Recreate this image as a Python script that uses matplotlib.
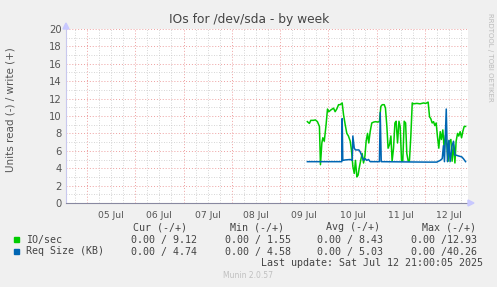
import matplotlib
matplotlib.use("Agg")
import matplotlib.pyplot as plt
from matplotlib.ticker import MultipleLocator, FixedLocator, NullFormatter

# time in hours since 09 Jul 00:00
io_hours = [13.5, 14.5, 15.2, 16.5, 17.5, 18.5, 19.5, 20.0, 20.7, 21.2, 21.9, 22.8,
            23.5, 24.2, 25.2, 26.5, 27.3, 28.1, 29.0, 29.8, 30.8, 31.5, 32.3, 33.1,
            33.9, 34.8, 35.4, 36.1, 36.8, 37.4, 38.1, 38.7, 39.4, 40.1, 40.7, 41.4,
            42.1, 42.7, 43.4, 44.0, 44.7, 45.5, 46.4, 47.4, 48.4, 49.3, 50.0, 50.7,
            51.7, 52.3, 53.0, 53.6, 54.3, 55.0, 55.6, 56.3, 57.0, 57.6, 58.3, 59.0,
            59.6, 60.3, 60.9, 61.6, 62.3, 62.9, 63.6, 64.2, 64.9, 65.6, 66.2, 67.9,
            69.5, 71.2, 72.2, 72.8, 73.5, 74.2, 74.8, 75.5, 76.2, 76.8, 77.5, 78.1,
            78.8, 79.5, 80.1, 80.8, 81.5, 82.1, 82.8, 83.4, 84.1, 84.8, 85.4, 86.1,
            86.8, 87.4, 88.1, 88.7, 89.4, 90.1, 90.7, 91.4, 92.1]
io_sec = [9.35, 9.15, 9.5, 9.5, 9.55, 9.35, 8.8, 4.4, 6.9, 7.5, 7.1, 9.0,
          10.8, 10.5, 10.7, 10.9, 10.5, 10.8, 11.3, 11.3, 11.5, 10.1, 9.0, 8.0,
          7.7, 7.1, 6.1, 4.2, 3.4, 4.9, 3.0, 3.2, 4.2, 5.0, 5.7, 4.6,
          5.4, 7.1, 8.0, 6.9, 8.2, 9.2, 9.3, 9.35, 9.3, 9.35, 11.1, 11.3,
          11.3, 10.9, 8.8, 6.3, 6.7, 7.7, 4.8, 6.3, 9.2, 9.4, 6.9, 9.4,
          8.8, 4.8, 4.8, 9.4, 9.2, 5.7, 4.8, 4.8, 7.7, 11.5, 11.4, 11.45,
          11.4, 11.5, 11.45, 11.5, 11.6, 9.9, 9.7, 9.2, 9.35, 8.9, 9.2, 7.7,
          6.3, 8.2, 7.3, 8.4, 6.1, 7.8, 6.7, 4.8, 7.1, 7.3, 4.8, 6.7,
          4.6, 7.1, 8.0, 7.7, 8.2, 7.5, 8.2, 8.8, 8.8]

req_hours = [13.5, 30.6, 30.8, 31.1, 32.3, 34.8, 35.8, 36.1, 36.8, 37.4, 39.1, 39.7,
             40.6, 41.4, 42.2, 43.0, 43.9, 44.7, 49.3, 49.7, 50.2, 72.8, 77.8, 79.5,
             80.5, 81.1, 81.6, 82.5, 83.1, 83.8, 84.4, 85.4, 86.1, 86.8, 87.4, 88.7,
             90.2, 91.0, 92.1]
req_kb = [4.75, 4.75, 9.7, 4.9, 4.95, 5.0, 4.9, 7.7, 6.3, 6.1, 6.1, 5.9,
          5.4, 4.9, 5.1, 4.9, 5.0, 4.75, 4.75, 10.4, 4.75, 4.7, 4.7, 4.9,
          5.1, 6.6, 4.75, 10.8, 4.75, 7.2, 4.75, 6.6, 7.1, 5.5, 5.5, 5.4,
          5.3, 5.1, 4.75]

day_labels = ['05 Jul', '06 Jul', '07 Jul', '08 Jul', '09 Jul', '10 Jul', '11 Jul', '12 Jul']
legend_names = ['IO/sec', 'Req Size (KB)']
cur = ['0.00 / 9.12', '0.00 / 4.74']
mins = ['0.00 / 1.55', '0.00 / 4.58']
avgs = ['0.00 / 8.43', '0.00 / 5.03']
maxs = ['0.00 /12.93', '0.00 /40.26']
colors = ['#00cc00', '#0066b3']

W, H = 497, 287
fig = plt.figure(figsize=(W / 100, H / 100), dpi=100, facecolor='#f0f0f0')
ax = fig.add_axes([66 / W, 84 / H, 402 / W, 174 / H])
ax.set_facecolor('white')

ax.plot(io_hours, io_sec, color=colors[0], lw=1.1, zorder=3)
ax.plot(req_hours, req_kb, color=colors[1], lw=1.1, zorder=4)

ax.set_xlim(-106.4, 93.3)
ax.set_ylim(0, 20)

# grid: red at major, grey at minor
ax.xaxis.set_major_locator(FixedLocator([-96 + 24 * i for i in range(8)]))
ax.xaxis.set_minor_locator(FixedLocator([h for h in range(-102, 93, 6) if h % 24 != 0]))
ax.xaxis.set_major_formatter(NullFormatter())
ax.yaxis.set_major_locator(MultipleLocator(2))
ax.yaxis.set_minor_locator(MultipleLocator(1))
ax.grid(which='minor', color='#c8c8c8', ls=(0, (1, 2)), lw=0.6, zorder=1)
ax.grid(which='major', color='#eea0a0', ls=(0, (1, 2)), lw=0.7, zorder=2)
ax.tick_params(which='both', length=0, labelsize=7.2, labelcolor='#555555', pad=3)
ax.set_axisbelow(True)

for i, lab in enumerate(day_labels):
    ax.text(-84 + 24 * i, -0.045, lab, transform=ax.get_xaxis_transform(),
            ha='center', va='top', fontsize=6.7, color='#555555')

for s in ['top', 'right']:
    ax.spines[s].set_visible(False)
ax.spines['left'].set_color('#c8c8ee')
ax.spines['bottom'].set_color('#8888a0')
ax.spines['left'].set_linewidth(0.8)
ax.spines['bottom'].set_linewidth(0.8)

# axis arrows
fig.patches.append(plt.Polygon([[63 / W, (H - 29) / H], [69 / W, (H - 29) / H], [66 / W, (H - 23) / H]],
                               closed=True, transform=fig.transFigure, color='#c8c8ff', clip_on=False))
fig.patches.append(plt.Polygon([[468 / W, (H - 200) / H], [468 / W, (H - 206) / H], [474 / W, (H - 203) / H]],
                               closed=True, transform=fig.transFigure, color='#c8c8ff', clip_on=False))

fig.text(249 / W, (H - 19) / H, 'IOs for /dev/sda - by week', ha='center', va='center',
         fontsize=8.8, color='#444444')
fig.text(11 / W, (H - 110) / H, 'Units read (-) / write (+)', rotation=90, ha='center',
         va='center', fontsize=7.5, color='#555555')
fig.text(490 / W, (H - 13) / H, 'RRDTOOL / TOBI OETIKER', rotation=270, ha='center', va='top',
         fontsize=5, color='#bbbbbb')

mono = 'DejaVu Sans Mono'
fs = 7.2
tc = '#444444'
hy = H - 227
for x, t in zip([187, 284, 380, 476], ['Cur (-/+)', 'Min (-/+)', 'Avg (-/+)', 'Max (-/+)']):
    fig.text(x / W, hy / H, t, ha='right', va='center', family=mono, fontsize=fs, color=tc)
rows = [H - 239.5, H - 251.5]
for r, y in enumerate(rows):
    fig.patches.append(plt.Rectangle((14 / W, (y - 2.5) / H), 5 / W, 5 / H, transform=fig.transFigure,
                                     color=colors[r]))
    fig.text(26 / W, y / H, legend_names[r], ha='left', va='center', family=mono, fontsize=fs, color=tc)
    for x, vals in zip([197, 291, 383, 477], [cur, mins, avgs, maxs]):
        fig.text(x / W, y / H, vals[r], ha='right', va='center', family=mono, fontsize=fs, color=tc)
fig.text(483 / W, (H - 263.5) / H, 'Last update: Sat Jul 12 21:00:05 2025', ha='right', va='center',
         family=mono, fontsize=fs, color=tc)
fig.text(248 / W, (H - 276) / H, 'Munin 2.0.57', ha='center', va='center', fontsize=5.5, color='#c0c0c0')

fig.savefig('out.png', dpi=100, facecolor=fig.get_facecolor())
